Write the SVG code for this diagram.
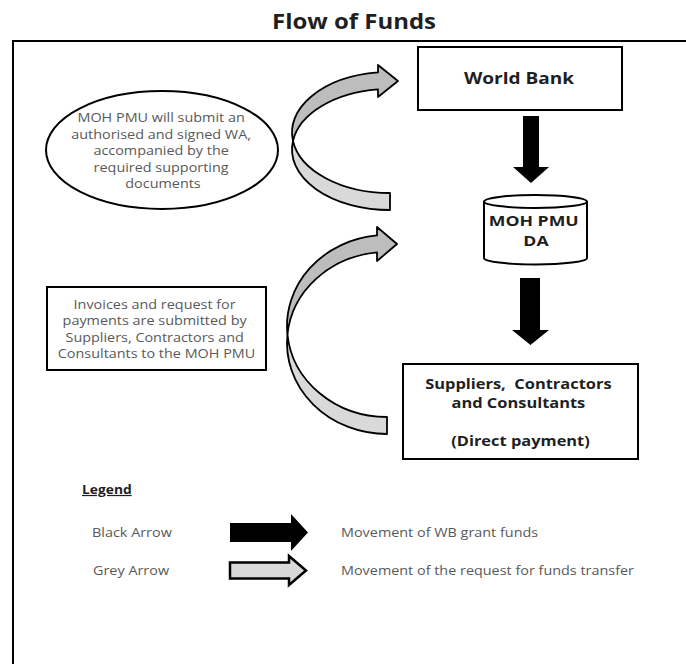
<svg xmlns="http://www.w3.org/2000/svg" width="686" height="664" viewBox="0 0 686 664">
<style>
  .t{font-family:"Open Sans","Liberation Sans",sans-serif;font-size:12px;fill:#595959}
  .b{font-family:"Open Sans","Liberation Sans",sans-serif;font-weight:bold;fill:#1f1f1f}
  .box{fill:#fff;stroke:#000;stroke-width:2}
  .dark{fill:#bdbdbd;stroke:#000;stroke-width:1.8;stroke-linejoin:round}
  .light{fill:#d9d9d9;stroke:#000;stroke-width:1.8;stroke-linejoin:round}
  .blk{fill:#000;stroke:none}
</style>
<rect width="686" height="664" fill="#fff"/>
<g id="title">
  <text class="b" x="354" y="28.5" font-size="21" text-anchor="middle" textLength="164" lengthAdjust="spacingAndGlyphs">Flow of Funds</text>
</g>
<g id="frame">
  <path d="M13,664 V41 H686" fill="none" stroke="#000" stroke-width="2"/>
</g>
<g id="note-wa">
  <ellipse class="box" cx="162" cy="150" rx="116" ry="59"/>
  <g transform="translate(163,0) scale(1.2,1)">
    <text class="t" text-anchor="middle">
      <tspan x="0" y="122.5">MOH PMU will submit an</tspan>
      <tspan x="0" y="139">authorised and signed WA,</tspan>
      <tspan x="0" y="155.5">accompanied by the</tspan>
      <tspan x="0" y="172">required supporting</tspan>
      <tspan x="0" y="188.5">documents</tspan>
    </text>
  </g>
</g>
<g id="note-invoices">
  <rect class="box" x="47" y="287" width="219" height="83"/>
  <g transform="translate(156.5,0) scale(1.2,1)">
    <text class="t" text-anchor="middle">
      <tspan x="0" y="309">Invoices and request for</tspan>
      <tspan x="0" y="325.5">payments are submitted by</tspan>
      <tspan x="0" y="342">Suppliers, Contractors and</tspan>
      <tspan x="0" y="358.5">Consultants to the MOH PMU</tspan>
    </text>
  </g>
</g>
<g id="world-bank">
  <rect class="box" x="418" y="47" width="204" height="63"/>
  <g transform="translate(519,0) scale(1.19,1)">
    <text class="b" x="0" y="84" font-size="16" text-anchor="middle">World Bank</text>
  </g>
</g>
<g id="moh-pmu-da">
  <path class="box" d="M484,201.5 V258 A51.5,6.5 0 0 0 587,258 V201.5 A51.5,6.5 0 0 0 484,201.5 Z"/>
  <path d="M484,201.5 A51.5,6.5 0 0 0 587,201.5" fill="none" stroke="#000" stroke-width="2"/>
  <g transform="translate(536,0) scale(1.22,1)">
    <text class="b" font-size="14.5" text-anchor="middle">
      <tspan x="0" y="226">MOH PMU</tspan>
      <tspan x="0" y="246">DA</tspan>
    </text>
  </g>
</g>
<g id="suppliers">
  <rect class="box" x="403" y="364" width="235" height="95"/>
  <g transform="translate(520.5,0) scale(1.19,1)">
    <text class="b" font-size="13.8" text-anchor="middle">
      <tspan x="0" y="389">Suppliers,&#160; Contractors</tspan>
      <tspan x="0" y="408">and Consultants</tspan>
      <tspan x="0" y="446">(Direct payment)</tspan>
    </text>
  </g>
</g>
<g id="connectors">
  <path class="light" d="M390,210 A98,60.5 0 0 1 292.97,141 A98,60.5 0 0 0 390,193 Z"/>
  <path class="dark" d="M292.97,141 A98,60.5 0 0 1 378,72.46 L378,65 L398,81 L378,97 L378,89.46 A98,60.5 0 0 0 292.97,141 Z"/>
  <path class="light" d="M387,434 A100,91 0 0 1 287.44,334.5 A100,91 0 0 0 387,417 Z"/>
  <path class="dark" d="M287.44,334.5 A100,91 0 0 1 377,235.46 L377,227 L397,244 L377,261 L377,252.46 A100,91 0 0 0 287.44,334.5 Z"/>
  <polygon class="blk" points="523,116 539,116 539,167 549,167 531,183 513,167 523,167"/>
  <polygon class="blk" points="520,278 540,278 540,330 549,330 530.5,345 512,330 520,330"/>
</g>
<g id="legend">
  <g transform="translate(82,0) scale(1.15,1)">
    <text class="b" x="0" y="494" font-size="12" text-decoration="underline">Legend</text>
  </g>
  <g transform="translate(92,0) scale(1.2,1)">
    <text class="t" x="0" y="537">Black Arrow</text>
  </g>
  <polygon class="blk" points="230,523 291,523 291,514 308,532.5 291,551 291,542 230,542"/>
  <g transform="translate(341,0) scale(1.2,1)">
    <text class="t" x="0" y="537">Movement of WB grant funds</text>
  </g>
  <g transform="translate(93,0) scale(1.2,1)">
    <text class="t" x="0" y="575">Grey Arrow</text>
  </g>
  <polygon points="230,562.5 289,562.5 289,556 306,570.5 289,585 289,578.5 230,578.5" fill="#d9d9d9" stroke="#000" stroke-width="2.5" stroke-linejoin="miter"/>
  <g transform="translate(341,0) scale(1.2,1)">
    <text class="t" x="0" y="575">Movement of the request for funds transfer</text>
  </g>
</g>
</svg>
